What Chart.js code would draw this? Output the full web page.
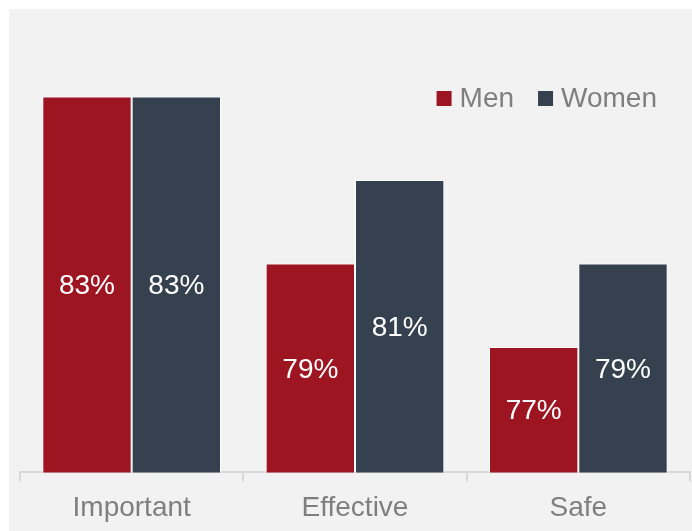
<!DOCTYPE html>
<html>
<head>
<meta charset="utf-8">
<script src="https://cdn.jsdelivr.net/npm/chart.js@4"></script>
<style>
  html, body { margin: 0; padding: 0; background: #ffffff; }
  #panel { position: absolute; left: 9px; top: 9px; width: 683px; height: 522px; background: #f2f2f2; overflow: hidden; }
  canvas { display: block; margin-top: 4px; }
</style>
</head>
<body>
<div id="panel"><canvas id="chart" width="683" height="522"></canvas></div>
<script>
// Data
const categories = ['Important', 'Effective', 'Safe'];
const menValues = [83, 79, 77];
const womenValues = [83, 81, 79];
const seriesNames = ['Men', 'Women'];
const seriesColors = ['#9e1522', '#36414f'];

const FONT = "'Liberation Sans', Arial, sans-serif";

// value labels in the middle of each bar + legend inside the plot, top right
const overlay = {
    id: 'overlay',
    afterDraw(chart) {
        const ctx = chart.ctx;
        const area = chart.chartArea;
        ctx.save();
        ctx.font = '28px ' + FONT;
        ctx.textBaseline = 'middle';

        // bar labels (bars start at 0, so clip the base to the visible axis)
        ctx.fillStyle = '#ffffff';
        ctx.textAlign = 'center';
        chart.data.datasets.forEach((ds, i) => {
            chart.getDatasetMeta(i).data.forEach((bar, j) => {
                const p = bar.getProps(['x', 'y', 'base'], true);
                const base = Math.min(p.base, area.bottom);
                ctx.fillText(ds.data[j] + '%', p.x, (p.y + base) / 2 + 2);
            });
        });

        // legend
        ctx.textAlign = 'left';
        const y = 85;
        let x = area.right - 33;
        const items = chart.data.datasets.map(ds => ({ label: ds.label, color: ds.backgroundColor }));
        for (let i = items.length - 1; i >= 0; i--) {
            const w = ctx.measureText(items[i].label).width;
            x -= w;
            ctx.fillStyle = '#7f7f7f';
            ctx.fillText(items[i].label, x, y + 1);
            x -= 23;
            ctx.fillStyle = items[i].color;
            ctx.fillRect(x, y - 7, 15, 15);
            x -= 24;
        }
        ctx.restore();
    }
};

new Chart(document.getElementById('chart'), {
    type: 'bar',
    data: {
        labels: categories,
        datasets: [
            { label: seriesNames[0], data: menValues, backgroundColor: seriesColors[0], borderColor: 'rgba(255,255,255,0.8)', borderWidth: 1 },
            { label: seriesNames[1], data: womenValues, backgroundColor: seriesColors[1], borderColor: 'rgba(255,255,255,0.8)', borderWidth: 1 }
        ]
    },
    options: {
        responsive: false,
        animation: false,
        layout: { padding: { left: 11, right: 2, top: 0, bottom: 0 } },
        datasets: { bar: { categoryPercentage: 0.8, barPercentage: 1 } },
        plugins: { legend: { display: false }, tooltip: { enabled: false } },
        scales: {
            x: {
                grid: { display: true, drawOnChartArea: false, drawTicks: true, tickLength: 9, color: '#d9d9d9', lineWidth: 2 },
                border: { display: true, color: '#d9d9d9', width: 2 },
                ticks: { color: '#7f7f7f', font: { family: FONT, size: 28 }, padding: 10 }
            },
            y: {
                display: false,
                min: 74,
                max: 85
            }
        }
    },
    plugins: [overlay]
});
</script>
</body>
</html>
